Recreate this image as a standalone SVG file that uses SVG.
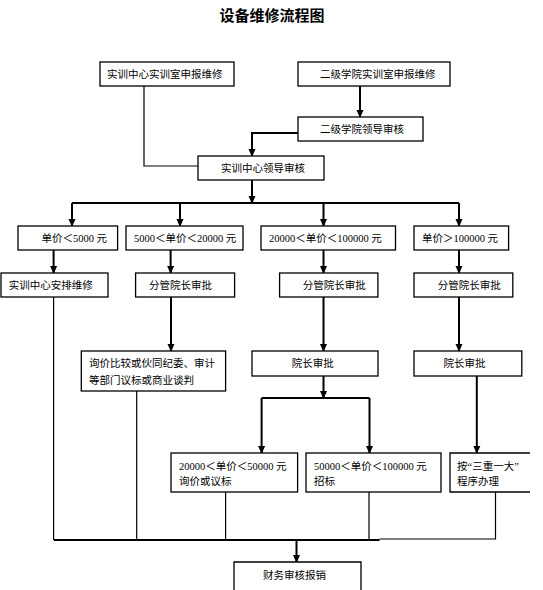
<svg xmlns="http://www.w3.org/2000/svg" width="543" height="590" viewBox="0 0 543 590">
<style>
.bx{fill:#fff;stroke:#000;stroke-width:1.3}
.t{font-family:"Liberation Serif","Noto Sans CJK SC",serif;font-size:10.5px;fill:#000}
.ttl{font-family:"Noto Sans CJK SC",sans-serif;font-size:15px;font-weight:bold;fill:#000}
.ar{fill:none;stroke:#000;stroke-width:2;marker-end:url(#ah)}
.ln{fill:none;stroke:#000;stroke-width:1.2}
.lt{fill:none;stroke:#000;stroke-width:2}
</style>
<defs>
<marker id="ah" markerWidth="8" markerHeight="8" refX="7" refY="4" orient="auto" markerUnits="userSpaceOnUse">
<path d="M0,0.5 L8,4 L0,7.5 z" fill="#000"/>
</marker>
</defs>
<rect width="543" height="590" fill="#fff"/>
<text class="ttl" x="272" y="21" text-anchor="middle">设备维修流程图</text>

<g id="connectors">
<path class="ar" d="M360,86 V117"/>
<path class="ar" d="M298,133 H252 V156"/>
<path class="ar" d="M252,180 V203"/>
<path class="lt" d="M72,203 H459"/>
<path class="ar" d="M72,203 V226"/>
<path class="ar" d="M180,203 V226"/>
<path class="ar" d="M323.5,203 V226"/>
<path class="ar" d="M459,203 V226"/>
<path class="ar" d="M53.6,250 V273"/>
<path class="ar" d="M170.6,250 V273"/>
<path class="ar" d="M323.5,250 V273"/>
<path class="ar" d="M459,250 V273"/>
<path class="ar" d="M171,297 V351"/>
<path class="ar" d="M323.5,297 V351"/>
<path class="ar" d="M459,297 V351"/>
<path class="ar" d="M323.5,376 V398"/>
<path class="lt" d="M261.6,398 H369.5"/>
<path class="ar" d="M261.6,398 V453"/>
<path class="ar" d="M369.5,398 V453"/>
<path class="ar" d="M476.8,376 V453"/>
<path class="ar" d="M296.5,540 V562"/>
<path class="ln" d="M144,86 V166 H198"/>
<path class="ln" d="M53.6,297 V540"/>
<path class="ln" d="M136.7,391 V540"/>
<path class="ln" d="M225.6,492 V540"/>
<path class="ln" d="M369,492 V540"/>
<path class="ln" d="M495.5,492 V539 H379.6"/>
<path class="lt" d="M54,540 H379.6"/>
</g>

<g id="n1"><rect class="bx" x="100" y="62" width="134" height="24"/><text class="t" x="107" y="78">实训中心实训室申报维修</text></g>
<g id="n2"><rect class="bx" x="298" y="62" width="152" height="24"/><text class="t" x="320" y="78">二级学院实训室申报维修</text></g>
<g id="n3"><rect class="bx" x="298" y="117" width="125" height="24"/><text class="t" x="320" y="133">二级学院领导审核</text></g>
<g id="n4"><rect class="bx" x="198" y="156" width="126" height="24"/><text class="t" x="221" y="172">实训中心领导审核</text></g>

<g id="p1"><rect class="bx" x="18" y="226" width="99.6" height="24"/><text class="t" x="41.5" y="242">单价＜5000 元</text></g>
<g id="p2"><rect class="bx" x="126" y="226" width="117" height="24"/><text class="t" x="134" y="242">5000＜单价＜20000 元</text></g>
<g id="p3"><rect class="bx" x="261" y="226" width="134.5" height="24"/><text class="t" x="269" y="242">20000＜单价＜100000 元</text></g>
<g id="p4"><rect class="bx" x="414" y="226" width="94.6" height="24"/><text class="t" x="422" y="242">单价＞100000 元</text></g>

<g id="q1"><rect class="bx" x="1" y="273" width="107" height="24"/><text class="t" x="8.7" y="289">实训中心安排维修</text></g>
<g id="q2"><rect class="bx" x="135.6" y="273" width="99" height="24"/><text class="t" x="149" y="289">分管院长审批</text></g>
<g id="q3"><rect class="bx" x="279.6" y="273" width="98.3" height="24"/><text class="t" x="302.8" y="289">分管院长审批</text></g>
<g id="q4"><rect class="bx" x="414" y="273" width="98.8" height="24"/><text class="t" x="437.7" y="289">分管院长审批</text></g>

<g id="r2"><rect class="bx" x="81.3" y="351" width="144.3" height="40"/><text class="t" x="89" y="367">询价比较或伙同纪委、审计</text><text class="t" x="89" y="384">等部门议标或商业谈判</text></g>
<g id="r3"><rect class="bx" x="252" y="351" width="126" height="25"/><text class="t" x="291.7" y="367">院长审批</text></g>
<g id="r4"><rect class="bx" x="414" y="351" width="107.8" height="25"/><text class="t" x="443.6" y="367">院长审批</text></g>

<g id="s1"><rect class="bx" x="171" y="453" width="126.6" height="39"/><text class="t" x="179" y="470">20000＜单价＜50000 元</text><text class="t" x="179" y="485">询价或议标</text></g>
<g id="s2"><rect class="bx" x="306" y="453" width="135" height="39"/><text class="t" x="314" y="470">50000＜单价＜100000 元</text><text class="t" x="314" y="485">招标</text></g>
<g id="s3"><path class="bx" d="M530,453 H450 V492 H530"/><text class="t" x="457" y="470">按“三重一大”</text><text class="t" x="457" y="485">程序办理</text></g>

<g id="f1"><path class="bx" d="M234,590 V562 H361 V590"/><text class="t" x="263" y="579">财务审核报销</text></g>
</svg>
